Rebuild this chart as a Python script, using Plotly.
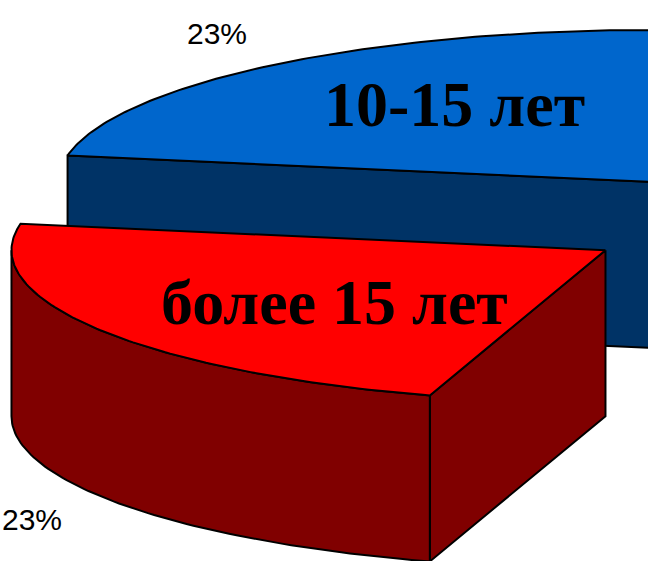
import numpy as np
import plotly.graph_objects as go

# Pie data (slices in pie order, starting at START_DEG and running clockwise on screen)
categories = ["более 15 лет", "10-15 лет"]
shares = [23, 23]
pct_labels = [f"{v}%" for v in shares]

# Styling
top_colors = ["#FF0000", "#0066CC"]
side_colors = ["#800000", "#003366"]

# 3D pie geometry in page pixels (plot extends beyond the visible window)
W, H = 648, 561
CENTER = (780.4, 222.9)   # un-exploded pie centre
RX, RY = 594.0, 152.0     # ellipse radii of the pie top
DEPTH = 166.0             # extrusion height
EXPLODE = 0.345           # explosion as a fraction of the radius
START_DEG = 107.2
NAME_FX, NAME_FY = 0.534, 0.655   # where the category name sits on the top face
LABEL_GAP = 35                    # gap between slice edge and percentage label

fig = go.Figure()


def pt(c, th, dz=0.0):
    return c[0] + RX * np.cos(th), c[1] + RY * np.sin(th) + dz


def add_poly(xs, ys, color):
    fig.add_trace(go.Scatter(
        x=list(xs) + [xs[0]], y=list(ys) + [ys[0]], mode="lines",
        fill="toself", fillcolor=color,
        line=dict(color="black", width=2), hoverinfo="skip", showlegend=False))


slices = []
acc = START_DEG
for name, val, lab, tc, sc in zip(categories, shares, pct_labels, top_colors, side_colors):
    t1 = np.radians(acc)
    t2 = np.radians(acc + val / 100 * 360)
    acc += val / 100 * 360
    mid = (t1 + t2) / 2
    c = (CENTER[0] + EXPLODE * RX * np.cos(mid), CENTER[1] + EXPLODE * RY * np.sin(mid))
    slices.append(dict(name=name, lab=lab, tc=tc, sc=sc, t1=t1, t2=t2, mid=mid, c=c))

# draw back slices first
for s in sorted(slices, key=lambda s: np.sin(s["mid"])):
    c, t1, t2 = s["c"], s["t1"], s["t2"]
    # radial faces
    for th, visible in ((t2, np.cos(t2) > 0), (t1, np.cos(t1) < 0)):
        if visible:
            p, pb = pt(c, th), pt(c, th, DEPTH)
            add_poly([c[0], p[0], pb[0], c[0]], [c[1], p[1], pb[1], c[1] + DEPTH], s["sc"])
    # outer curved side (front half only)
    lo, hi = max(t1, 0.0), min(t2, np.pi)
    if hi > lo:
        th = np.linspace(lo, hi, 80)
        xs = np.concatenate([c[0] + RX * np.cos(th), (c[0] + RX * np.cos(th))[::-1]])
        ys = np.concatenate([c[1] + RY * np.sin(th), (c[1] + RY * np.sin(th) + DEPTH)[::-1]])
        add_poly(xs, ys, s["sc"])
    # top face
    th = np.linspace(t1, t2, 120)
    xs = np.concatenate([[c[0]], c[0] + RX * np.cos(th)])
    ys = np.concatenate([[c[1]], c[1] + RY * np.sin(th)])
    add_poly(xs, ys, s["tc"])

annotations = []
for s in slices:
    c, m = s["c"], s["mid"]
    # category name on the top face
    annotations.append(dict(
        x=c[0] + NAME_FX * RX * np.cos(m), y=c[1] + NAME_FY * RY * np.sin(m),
        text=f"<b>{s['name']}</b>", showarrow=False, xanchor="center", yanchor="middle",
        font=dict(family="Times New Roman, Liberation Serif, serif", size=64, color="black")))
    # percentage outside the slice
    front = np.sin(m) > 0
    ex, ey = pt(c, m, DEPTH if front else 0.0)
    v = np.array([RX * np.cos(m), RY * np.sin(m)])
    v = v / np.linalg.norm(v)
    annotations.append(dict(
        x=ex + LABEL_GAP * v[0], y=ey + LABEL_GAP * v[1], text=s["lab"], showarrow=False,
        xanchor="right" if v[0] < 0 else "left", yanchor="top" if front else "bottom",
        font=dict(family="Arial, Liberation Sans, sans-serif", size=30, color="black")))

fig.update_layout(
    width=W, height=H, margin=dict(l=0, r=0, t=0, b=0),
    paper_bgcolor="white", plot_bgcolor="white",
    xaxis=dict(range=[0, W], visible=False, fixedrange=True),
    yaxis=dict(range=[H, 0], visible=False, fixedrange=True),
    annotations=annotations, showlegend=False)

fig.write_html("out.html", config={"displayModeBar": False})
